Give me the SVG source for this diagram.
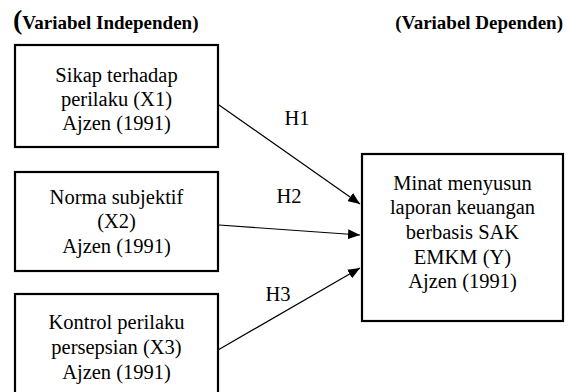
<svg xmlns="http://www.w3.org/2000/svg" width="571" height="392" viewBox="0 0 571 392">
<style>
.box{fill:#fff;stroke:#000;stroke-width:2.2}
.t{font-family:'Liberation Serif','Times New Roman',Times,'DejaVu Serif',serif;font-size:20.5px;fill:#000;text-anchor:middle}
.h{font-family:'Liberation Serif','Times New Roman',Times,'DejaVu Serif',serif;font-size:19px;font-weight:bold;fill:#000}
.c{stroke:#000;stroke-width:1.2;fill:none}
</style>
<defs>
<marker id="ah" viewBox="0 0 12 10" refX="12" refY="5" markerWidth="12" markerHeight="10" markerUnits="userSpaceOnUse" orient="auto">
<path d="M0,0 L12,5 L0,10 Z" fill="#000"/>
</marker>
</defs>
<rect width="571" height="392" fill="#fff"/>
<g id="headers">
<text class="h" x="13" y="29"><tspan font-size="28px">(</tspan>Variabel Independen)</text>
<text class="h" x="563" y="29" text-anchor="end">(Variabel Dependen)</text>
</g>
<g id="x1">
<rect class="box" x="15" y="45" width="203" height="102"/>
<text class="t" x="116.5" y="82">Sikap terhadap</text>
<text class="t" x="116.5" y="106">perilaku (X1)</text>
<text class="t" x="116.5" y="130">Ajzen (1991)</text>
</g>
<g id="x2">
<rect class="box" x="15" y="172" width="203" height="99"/>
<text class="t" x="116.5" y="204">Norma subjektif</text>
<text class="t" x="116.5" y="228">(X2)</text>
<text class="t" x="116.5" y="253">Ajzen (1991)</text>
</g>
<g id="x3">
<rect class="box" x="15" y="294" width="203" height="104"/>
<text class="t" x="116.5" y="329">Kontrol perilaku</text>
<text class="t" x="116.5" y="354">persepsian (X3)</text>
<text class="t" x="116.5" y="379">Ajzen (1991)</text>
</g>
<g id="y">
<rect class="box" x="362" y="154" width="201" height="167"/>
<text class="t" x="462.5" y="190">Minat menyusun</text>
<text class="t" x="462.5" y="214">laporan keuangan</text>
<text class="t" x="462.5" y="239">berbasis SAK</text>
<text class="t" x="462.5" y="264">EMKM (Y)</text>
<text class="t" x="462.5" y="288">Ajzen (1991)</text>
</g>
<g id="connectors">
<line class="c" x1="219" y1="105" x2="360" y2="204" marker-end="url(#ah)"/>
<line class="c" x1="219" y1="225" x2="360" y2="235" marker-end="url(#ah)"/>
<line class="c" x1="218" y1="350" x2="360" y2="268" marker-end="url(#ah)"/>
<text class="t" x="297" y="125">H1</text>
<text class="t" x="289" y="203">H2</text>
<text class="t" x="278" y="301">H3</text>
</g>
</svg>
